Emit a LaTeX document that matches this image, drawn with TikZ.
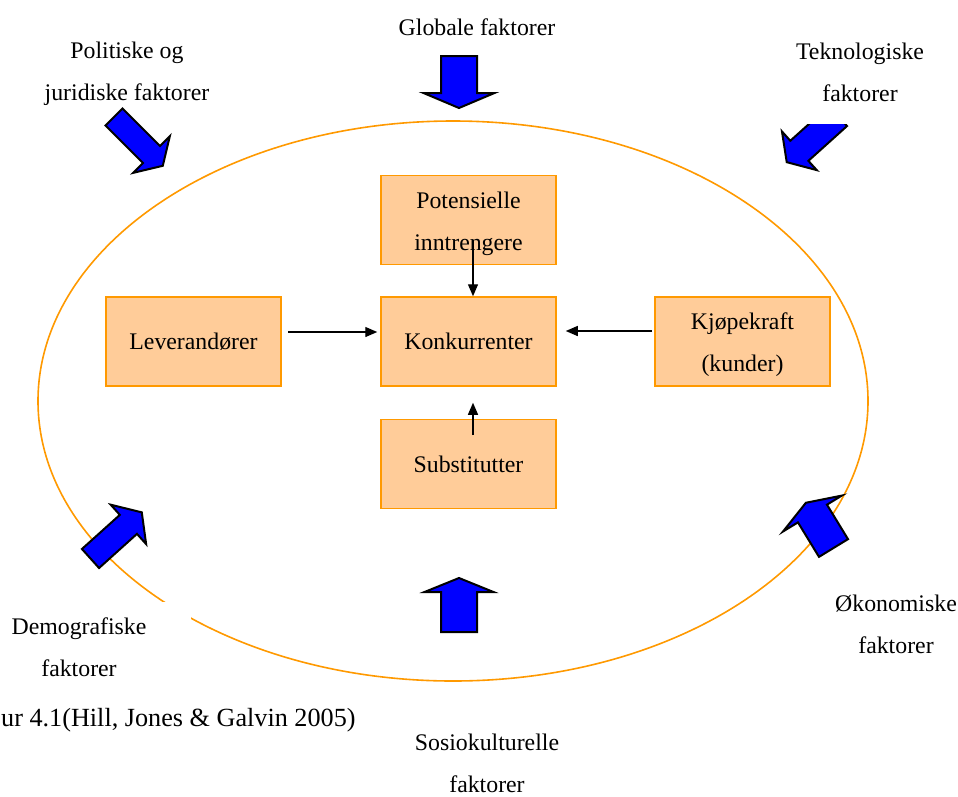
\documentclass[tikz,border=0pt]{standalone}
\usepackage{fontspec}
\setmainfont{Liberation Serif}
\usetikzlibrary{arrows.meta}

\definecolor{ringorange}{HTML}{FF9900}
\definecolor{boxfill}{HTML}{FFCC99}
\definecolor{pushblue}{HTML}{0000FF}

% block arrow: tail centre, direction, length, half shaft, half head, head length
\newcommand\fzarrow[6]{%
  \begin{scope}[shift={#1}, rotate=#2]
    \draw[pusharrow] (0,-#4) -- ({#3-#6},-#4) -- ({#3-#6},-#5) -- (#3,0)
      -- ({#3-#6},#5) -- ({#3-#6},#4) -- (0,#4) -- cycle;
  \end{scope}}

\begin{document}
\begin{tikzpicture}[x=1pt, y=-1pt,
  every node/.style={font=\fontsize{23.8}{42}\selectfont, align=center},
  forcebox/.style={draw=ringorange, fill=boxfill, line width=1.5pt,
    minimum width=175pt, minimum height=89pt, inner sep=0pt},
  label/.style={inner sep=0pt},
  link/.style={draw=black, line width=1.3pt, -{Triangle[length=12pt,width=10pt]}},
  pusharrow/.style={draw=black, fill=pushblue, line width=2pt, line join=miter},
]
\useasboundingbox (0,0) rectangle (958,796);

% environment ring
\draw[ringorange, line width=1.6pt] (453,401) ellipse [x radius=415, y radius=280];

% text box of the demographic label masks the ring
\fill[white] (0,602) rectangle (191,700);

% five forces
\node[forcebox] (pot)  at (468.5,220)   {};
\node[forcebox] (lev)  at (193.5,341.5) {Leverandører};
\node[forcebox] (konk) at (468.5,341.5) {Konkurrenter};
\node[forcebox] (kjo)  at (742.5,341.5) {};
\node[forcebox] (sub)  at (468.5,464)   {Substitutter};
\node[label] (pottext) at ([yshift=-4pt]pot.center) {Potensielle\\inntrengere};
\node[label] (kjotext) at ([yshift=-3pt]kjo.center) {Kjøpekraft\\(kunder)};

\coordinate (potfoot) at (473,240);
\coordinate (levout)  at (288,332);
\coordinate (kjoout)  at (652,331);
\coordinate (subfoot) at (473,435);
\draw[link] (potfoot) -- (potfoot |- konk.north);
\draw[link, shorten >=3pt] (levout) -- (levout -| konk.west);
\draw[link, shorten >=9pt] (kjoout) -- (kjoout -| konk.east);
\draw[link, shorten >=16pt] (subfoot) -- (subfoot |- konk.south);

% external factors pushing on the industry
\fzarrow{(459,56)}{-90}{52}{18}{35.5}{15}
\fzarrow{(459,632)}{90}{54}{18}{34.5}{14}
\fzarrow{(114,117)}{-45}{69}{12}{26}{16}
\fzarrow{(90.5,558.5)}{42}{69}{12.8}{26.5}{18}
\fzarrow{(833.5,548)}{121.4}{53}{17}{34.5}{12.6}
\begin{scope}
  \clip (700,124) rectangle (958,300);
  \fzarrow{(838,116)}{222}{69}{13.5}{26}{17}
\end{scope}

% factor labels
\node[label] (glob) at (477,27)    {Globale faktorer};
\node[label] (pol)  at (127,74)    {Politiske og\\juridiske faktorer};
\node[label] (tek)  at (860,72)    {Teknologiske\\faktorer};
\node[label] (dem)  at (79,647)    {Demografiske\\faktorer};
\node[label] (oko)  at (896,624)   {Økonomiske\\faktorer};
\node[label] (sos)  at (487,763)   {Sosiokulturelle\\faktorer};
\node[label, anchor=west, font=\fontsize{26.2}{30}\selectfont] (cap) at (1,720)
  {ur 4.1(Hill, Jones \& Galvin 2005)};
\end{tikzpicture}
\end{document}
